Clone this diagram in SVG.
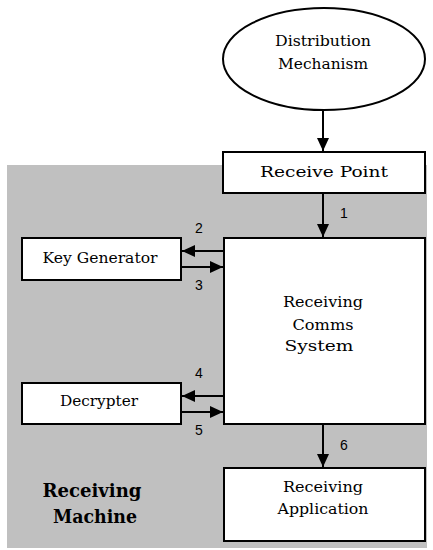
<svg xmlns="http://www.w3.org/2000/svg" width="433" height="550" viewBox="0 0 433 550">
<defs>
<style>
.box{fill:#fff;stroke:#000;stroke-width:2}
.lbl{font-family:"DejaVu Serif","Liberation Serif",serif;font-size:14px;fill:#000;text-anchor:middle}
.num{font-family:"Liberation Sans",Arial,sans-serif;font-size:14px;fill:#000;text-anchor:middle}
.big{font-family:"DejaVu Serif","Liberation Serif",serif;font-size:18px;font-weight:bold;fill:#000;text-anchor:middle}
.conn{stroke:#000;stroke-width:2;fill:none}
</style>
<marker id="ah" markerUnits="userSpaceOnUse" markerWidth="14" markerHeight="12" refX="13" refY="6" orient="auto">
<path d="M0,0 L13,6 L0,12 Z" fill="#000"/>
</marker>
</defs>
<rect x="7" y="165" width="420" height="383" fill="#c0c0c0"/>
<g id="distribution">
<ellipse cx="324" cy="59" rx="101" ry="51" fill="#fff" stroke="#000" stroke-width="2"/>
<text class="lbl" x="323" y="46" textLength="96" lengthAdjust="spacingAndGlyphs">Distribution</text>
<text class="lbl" x="323" y="69" textLength="90" lengthAdjust="spacingAndGlyphs">Mechanism</text>
</g>
<g id="receive-point">
<rect class="box" x="223" y="152" width="202" height="41"/>
<text class="lbl" x="324" y="177" textLength="128" lengthAdjust="spacingAndGlyphs">Receive Point</text>
</g>
<g id="comms">
<rect class="box" x="224" y="238" width="201" height="186"/>
<text class="lbl" x="323" y="307" textLength="80" lengthAdjust="spacingAndGlyphs">Receiving</text>
<text class="lbl" x="323" y="330" textLength="61" lengthAdjust="spacingAndGlyphs">Comms</text>
<text class="lbl" x="319" y="351" textLength="69" lengthAdjust="spacingAndGlyphs">System</text>
</g>
<g id="keygen">
<rect class="box" x="22" y="238" width="159" height="42"/>
<text class="lbl" x="100" y="263" textLength="115" lengthAdjust="spacingAndGlyphs">Key Generator</text>
</g>
<g id="decrypter">
<rect class="box" x="22" y="383" width="159" height="41"/>
<text class="lbl" x="99" y="406" textLength="78" lengthAdjust="spacingAndGlyphs">Decrypter</text>
</g>
<g id="app">
<rect class="box" x="224" y="468" width="201" height="73"/>
<text class="lbl" x="323" y="492" textLength="80" lengthAdjust="spacingAndGlyphs">Receiving</text>
<text class="lbl" x="323" y="514" textLength="91" lengthAdjust="spacingAndGlyphs">Application</text>
</g>
<g id="machine-label">
<text class="big" x="92" y="497" textLength="99" lengthAdjust="spacingAndGlyphs">Receiving</text>
<text class="big" x="95" y="523" textLength="84" lengthAdjust="spacingAndGlyphs">Machine</text>
</g>
<g id="connectors">
<line class="conn" x1="323" y1="110" x2="323" y2="151" marker-end="url(#ah)"/>
<line class="conn" x1="323" y1="193" x2="323" y2="237" marker-end="url(#ah)"/>
<line class="conn" x1="224" y1="251" x2="182" y2="251" marker-end="url(#ah)"/>
<line class="conn" x1="181" y1="267" x2="223" y2="267" marker-end="url(#ah)"/>
<line class="conn" x1="224" y1="396" x2="182" y2="396" marker-end="url(#ah)"/>
<line class="conn" x1="181" y1="412" x2="223" y2="412" marker-end="url(#ah)"/>
<line class="conn" x1="323" y1="424" x2="323" y2="467" marker-end="url(#ah)"/>
<text class="num" x="344" y="218">1</text>
<text class="num" x="199" y="233">2</text>
<text class="num" x="199" y="290">3</text>
<text class="num" x="199" y="378">4</text>
<text class="num" x="199" y="435">5</text>
<text class="num" x="344" y="450">6</text>
</g>
</svg>
